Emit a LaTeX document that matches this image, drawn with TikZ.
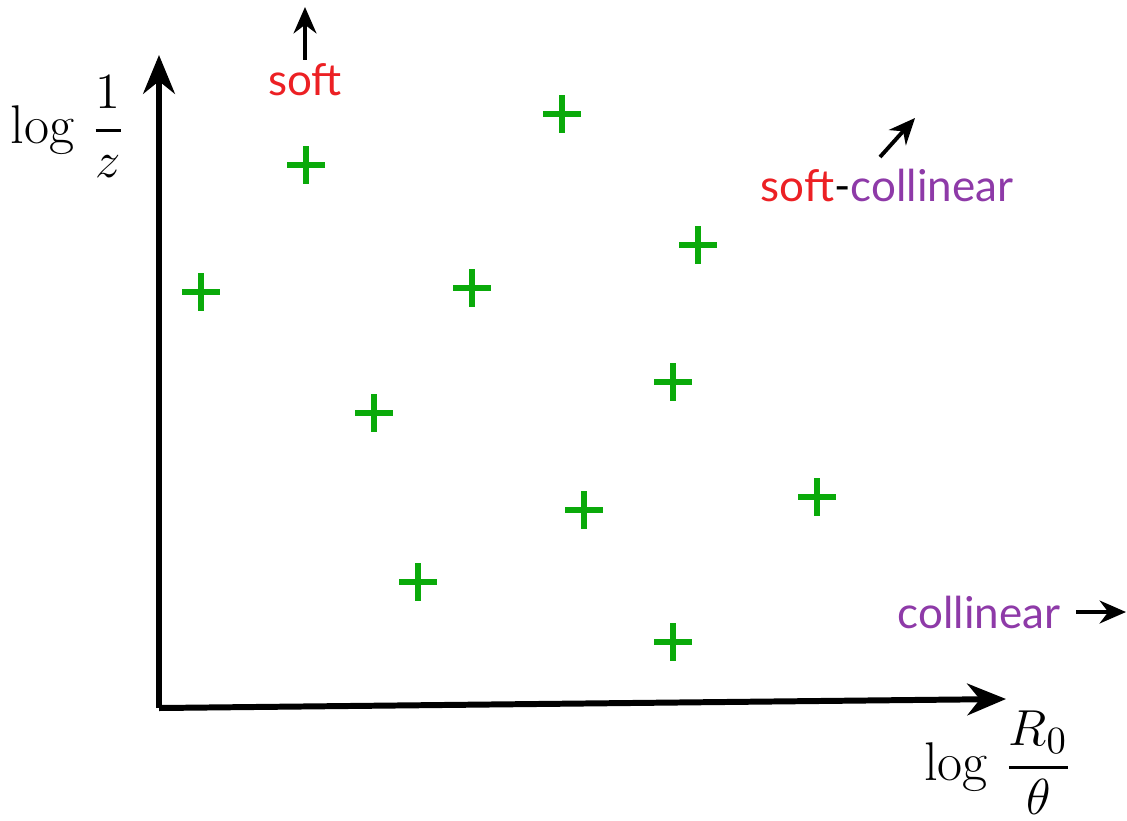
\documentclass[tikz,border=0pt]{standalone}
\usepackage{amsmath, amssymb}
\usepackage{fontspec}
\usepackage{xcolor}
\usepackage{tikz}
\usetikzlibrary{arrows.meta, positioning}

\newfontfamily\labelfont{Lato}
\definecolor{softred}{RGB}{236,32,36}
\definecolor{colpurple}{RGB}{142,58,168}
\definecolor{emitgreen}{RGB}{10,170,10}

\tikzset{
    axis/.style={line width=1.7pt, -{Stealth[length=11pt, width=9pt]}},
    hint/.style={line width=1.1pt, -{Stealth[length=7.5pt, width=6.5pt]}},
    region/.style={font=\labelfont\fontsize{12.5}{14}\selectfont, inner sep=1pt},
    axlabel/.style={font=\fontsize{15.5}{18}\selectfont, inner sep=1pt},
    emission/.style={line width=1.45pt, emitgreen}
}

\begin{document}
\begin{tikzpicture}[x=0.01cm, y=-0.01cm]

    \useasboundingbox (0,0) rectangle (1127,820);

    % =================================================================
    % 1. HE TRUC (log R0/theta, log 1/z)
    % =================================================================
    \coordinate (O) at (159,708);
    \coordinate (xend) at (1006,699);
    \coordinate (yend) at (159,55);
    \draw[axis] (O) -- (xend);
    \draw[axis] (O) -- (yend);

    \node[axlabel] (ylab) at (68,127) {$\displaystyle \log\,\frac{1}{z}$};
    \node[axlabel] (xlab) at (998,763) {$\displaystyle \log\,\frac{R_0}{\theta}$};

    % =================================================================
    % 2. CAC VUNG: soft, soft-collinear, collinear
    % =================================================================
    \node[region, text=softred] (soft) at (305,80) {soft};
    \coordinate (softtip) at (305,7);
    \draw[hint] (soft.north) -- (softtip);

    \node[region] (softcol) at (887,185)
        {\textcolor{softred}{soft}-\textcolor{colpurple}{collinear}};
    \coordinate (softcoltip) at (915,118);
    \draw[hint] (880,157) -- (softcoltip);

    \node[region, text=colpurple] (col) at (979,612) {collinear};
    \coordinate (coltip) at (1126,612);
    \draw[hint] (col.east) ++(12,0) coordinate (colstart) -- (coltip);

    % =================================================================
    % 3. CAC DAU + (BUC XA)
    % =================================================================
    \foreach \px/\py in {201/292, 306/165, 562/114, 472/288, 698/245,
                         374/413, 673/382, 584/510, 817/497, 418/582, 673/642}{
        \draw[emission] (\px-19,\py) -- (\px+19,\py);
        \draw[emission] (\px,\py-19) -- (\px,\py+19);
    }

\end{tikzpicture}
\end{document}
